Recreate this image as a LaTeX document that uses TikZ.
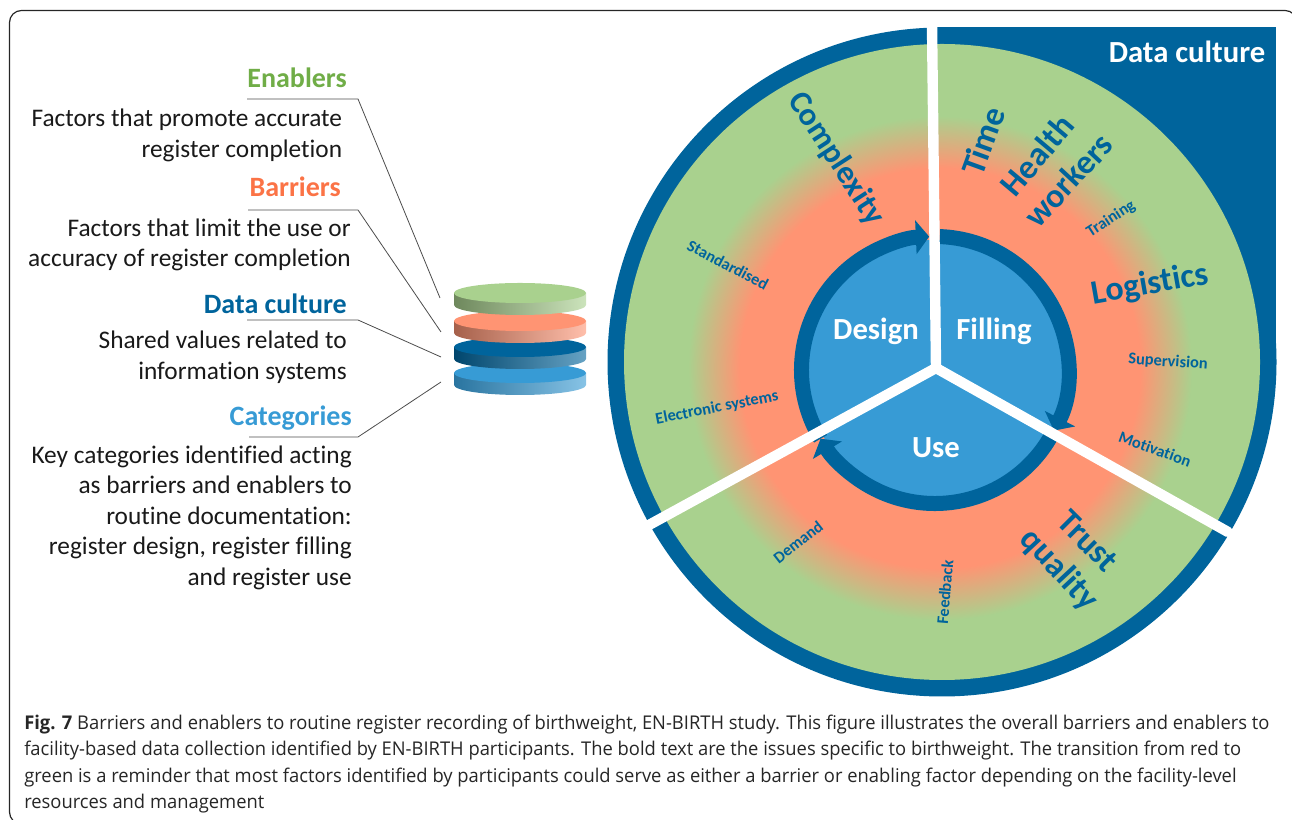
\documentclass[tikz,border=0pt]{standalone}
\usepackage{fontspec}
\usepackage{xcolor}
\setmainfont[Ligatures=NoCommon]{Carlito}
\newfontfamily\captionfont[FakeStretch=0.97]{Open Sans}
\usetikzlibrary{arrows.meta,positioning}
\definecolor{cultureBlue}{HTML}{00649C}
\definecolor{categoryBlue}{HTML}{379BD5}
\definecolor{enablerGreen}{HTML}{A9D18E}
\definecolor{barrierRed}{HTML}{FF9473}
\definecolor{enablerText}{HTML}{70AD47}
\definecolor{barrierText}{HTML}{FB7346}
\pgfdeclareradialshading{wheelFade}{\pgfpoint{0bp}{0bp}}{color(0bp)=(barrierRed); color(19.85bp)=(barrierRed); color(25bp)=(enablerGreen); color(50bp)=(enablerGreen)}
\tikzstyle{heading} = [font=\fontsize{21}{25}\selectfont\bfseries, inner sep=0pt, anchor=base east]
\tikzstyle{bodyText} = [font=\fontsize{19}{22.9}\selectfont, inner sep=0pt, align=right, text=black!90]
\tikzstyle{leader} = [draw=black!70, line width=0.6pt]
\tikzstyle{bigLabel} = [font=\fontsize{25.5}{30}\selectfont\bfseries, text=cultureBlue, inner sep=0pt]
\tikzstyle{smallLabel} = [font=\fontsize{12.3}{15}\selectfont\bfseries, text=cultureBlue, inner sep=0pt]
\tikzstyle{hubLabel} = [font=\fontsize{23}{28}\selectfont\bfseries, text=white, inner sep=0pt]
\tikzstyle{spoke} = [draw=white, line width=7.8pt, line cap=round]
\tikzstyle{ringArrow} = [draw=cultureBlue, line width=11.25pt, -{Triangle[length=10pt,width=25pt]}]

\begin{document}
\begin{tikzpicture}[x=0.75pt, y=0.75pt]
\useasboundingbox (0,0) rectangle (1292,820);

% frame
\draw[black!85, line width=0.9pt, rounded corners=9pt] (40,-4) -- (9.5,-4) -- (9.5,809.5) -- (1297,809.5) -- (1297,700);

% the wheel
\coordinate (wheelC) at (942,458);
\coordinate (fadeC) at (940,452);
\coordinate (ringC) at (935,450);
\coordinate (hub) at (936,452);
\coordinate (spokeTop) at (932,796);
\coordinate (spokeRight) at (1228,288);
\coordinate (spokeLeft) at (649,295);

\fill[cultureBlue] (wheelC) circle (334.5);
\fill[cultureBlue] (937,793) rectangle (1276,458);
\fill[enablerGreen] (wheelC) circle (318);
\shade[shading=wheelFade] (fadeC) circle (252);

\fill[categoryBlue] (ringC) circle (130);
\foreach \from/\to in {88/-27,-30/-149,211/92.5}
  \draw[ringArrow, shift={(ringC)}] (\from:133.5) arc (\from:\to:133.5);

\draw[spoke] (hub) -- (spokeTop);
\draw[spoke] (hub) -- (spokeRight);
\draw[spoke] (hub) -- (spokeLeft);

\node (design) [hubLabel] at (876,489) {Design};
\node (filling) [hubLabel] at (994,489) {Filling};
\node (use) [hubLabel] at (936,372) {Use};

\node (cornerTitle) [hubLabel] at (1187,768) {Data culture};

\node (complexity) [bigLabel, rotate=-57, font=\fontsize{24.3}{30}\selectfont\bfseries] at (836,661) {Complexity};
\node (time) [bigLabel, rotate=70] at (983,679) {Time};
\node (health) [bigLabel, rotate=50] at (1037,665) {Health};
\node (workers) [bigLabel, rotate=47] at (1068,640) {workers};
\node (logistics) [bigLabel, rotate=10] at (1150,535) {Logistics};
\node (trust) [bigLabel, rotate=-45] at (1088,279) {Trust};
\node (quality) [bigLabel, rotate=-47] at (1059,250) {quality};

\node (training) [smallLabel, rotate=33] at (1111,601) {Training};
\node (supervision) [smallLabel, rotate=-4] at (1168,458) {Supervision};
\node (motivation) [smallLabel, rotate=-20] at (1155,371) {Motivation};
\node (feedback) [smallLabel, rotate=85] at (945,228) {Feedback};
\node (demand) [smallLabel, rotate=38] at (798,278) {Demand};
\node (electronic) [smallLabel, rotate=11] at (717,412) {Electronic systems};
\node (standardised) [smallLabel, rotate=-28] at (728,555) {Standardised};

% the stack of disks, lowest first
\foreach \yc/\shA/\shB/\topc in {447/categoryBlue!75!black/categoryBlue!60!white/categoryBlue,
                                 473/cultureBlue!70!black/cultureBlue!60!white/cultureBlue,
                                 499/barrierRed!65!black/barrierRed!60!white/barrierRed,
                                 527/enablerGreen!65!black/enablerGreen!60!white/enablerGreen} {
  \shade[left color=\shA, right color=\shB] (454,\yc) -- (454,\yc-12) arc (180:360:66 and 10) -- (586,\yc) -- cycle;
  \fill[\topc] (520,\yc) ellipse (66 and 10);
}

% left column
\coordinate (enablersEnd) at (440,522);
\coordinate (barriersEnd) at (441,488);
\coordinate (cultureEnd) at (441,463);
\coordinate (categoriesEnd) at (441,438);

\node (enablers) [heading, text=enablerText] at (347,732.5) {Enablers};
\node (enablersText) [bodyText, below=16pt of enablers.base east, anchor=north east, xshift=-3.5pt] {Factors that promote accurate\\register completion};
\node (barriers) [heading, text=barrierText] at (341,623.5) {Barriers};
\node (barriersText) [bodyText, below=16.5pt of barriers.base east, anchor=north east, xshift=7.5pt] {Factors that limit the use or\\accuracy of register completion};
\node (culture) [heading, text=cultureBlue] at (347,506) {Data culture};
\node (cultureText) [bodyText, below=12.5pt of culture.base east, anchor=north east] {Shared values related to\\information systems};
\node (categories) [heading, text=categoryBlue] at (352,394) {Categories};
\node (categoriesText) [bodyText, below=14.5pt of categories.base east, anchor=north east] {Key categories identified acting\\as barriers and enablers to\\routine documentation:\\register design, register filling\\and register use};

\draw[leader] (247,721) -- (358,721) -- (enablersEnd);
\draw[leader] (248,610) -- (358,610) -- (barriersEnd);
\draw[leader] (247,500) -- (358,500) -- (cultureEnd);
\draw[leader] (249,383) -- (358,383) -- (categoriesEnd);

% caption
\node (caption) [inner sep=0pt, anchor=north west, align=left, text=black!85, font=\captionfont\fontsize{14.2}{19.6}\selectfont] at (24,105) {\textbf{Fig. 7} Barriers and enablers to routine register recording of birthweight, EN-BIRTH study. This figure illustrates the overall barriers and enablers to\\facility-based data collection identified by EN-BIRTH participants. The bold text are the issues specific to birthweight. The transition from red to\\green is a reminder that most factors identified by participants could serve as either a barrier or enabling factor depending on the facility-level\\resources and management};

\end{tikzpicture}
\end{document}
